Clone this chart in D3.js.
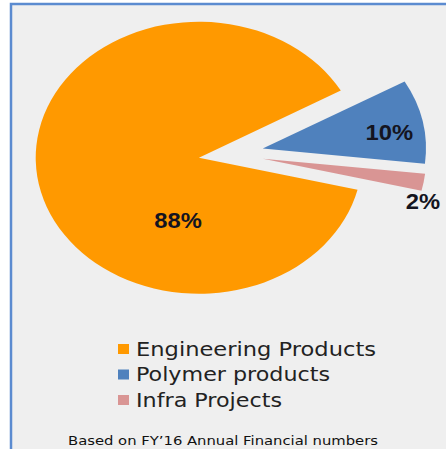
<!DOCTYPE html>
<html>
<head>
<meta charset="utf-8">
<script src="https://cdn.jsdelivr.net/npm/d3@7"></script>
<style>
  html, body { margin: 0; padding: 0; background: #fff; }
  svg { display: block; }
</style>
</head>
<body>
<svg id="chart" width="446" height="449"></svg>
<script>
// Revenue split data
const categories = ['Engineering Products', 'Polymer products', 'Infra Projects'];
const shares = [88, 10, 2];
const sliceColors = ['#ff9900', '#4f81bd', '#d99594'];
const footnote = "Based on FY\u201916 Annual Financial numbers";

const width = 446, height = 449;
const stretchX = 1.2;      // the original picture is stretched horizontally
const radius = 136;
const explode = 27;
const cx = 231, cy = 154;

const svg = d3.select('#chart');

// panel background + frame (left and top edges only visible)
svg.append('rect')
  .attr('x', 11).attr('y', 4)
  .attr('width', width - 11).attr('height', height - 4)
  .attr('fill', '#efefef');
svg.append('path')
  .attr('d', `M11,${height} L11,4 L${width},4`)
  .attr('fill', 'none')
  .attr('stroke', '#5b8bd0')
  .attr('stroke-width', 2.5);

const pie = d3.pie()
  .sort(null)
  .value(d => d)
  .startAngle(103.6 * Math.PI / 180)
  .endAngle(103.6 * Math.PI / 180 + 2 * Math.PI);

const arcs = pie(shares);
const arc = d3.arc().innerRadius(0).outerRadius(radius);

const pieGroup = svg.append('g')
  .attr('transform', `translate(${cx},${cy}) scale(${stretchX},1)`);

pieGroup.selectAll('path')
  .data(arcs)
  .join('path')
  .attr('d', arc)
  .attr('fill', (d, i) => sliceColors[i])
  .attr('transform', d => {
    const mid = (d.startAngle + d.endAngle) / 2;
    return `translate(${explode * Math.sin(mid)},${-explode * Math.cos(mid)})`;
  });

// percentage labels
const labelPos = [
  { x: 178, y: 220, anchor: 'middle' },
  { x: 413, y: 132, anchor: 'end' },
  { x: 440, y: 201, anchor: 'end' }
];

svg.selectAll('text.pct')
  .data(arcs)
  .join('text')
  .attr('class', 'pct')
  .attr('transform', (d, i) => `translate(${labelPos[i].x},${labelPos[i].y}) scale(1.08,1)`)
  .attr('text-anchor', (d, i) => labelPos[i].anchor)
  .attr('dy', '0.36em')
  .attr('font-family', '"Liberation Sans", Arial, sans-serif')
  .attr('font-weight', 'bold')
  .attr('font-size', 22)
  .attr('fill', '#141420')
  .text(d => d.data + '%');

// legend
const legendWidths = [240, 194, 146];
const legend = svg.append('g');
const rowY = d3.scalePoint().domain(categories).range([349, 400]);

const rows = legend.selectAll('g')
  .data(categories)
  .join('g')
  .attr('transform', d => `translate(0,${rowY(d)})`);

rows.append('rect')
  .attr('x', 118).attr('y', -5)
  .attr('width', 11).attr('height', 10)
  .attr('fill', (d, i) => sliceColors[i]);

rows.append('text')
  .attr('x', 136)
  .attr('dy', '0.36em')
  .attr('font-family', '"DejaVu Sans", Verdana, sans-serif')
  .attr('font-size', 19)
  .attr('fill', '#222')
  .attr('textLength', (d, i) => legendWidths[i])
  .attr('lengthAdjust', 'spacingAndGlyphs')
  .text(d => d);

// footnote
svg.append('text')
  .attr('x', 68).attr('y', 441)
  .attr('dy', '0.36em')
  .attr('font-family', '"DejaVu Sans", Verdana, sans-serif')
  .attr('font-size', 12)
  .attr('fill', '#111')
  .attr('textLength', 310)
  .attr('lengthAdjust', 'spacingAndGlyphs')
  .text(footnote);
</script>
</body>
</html>
